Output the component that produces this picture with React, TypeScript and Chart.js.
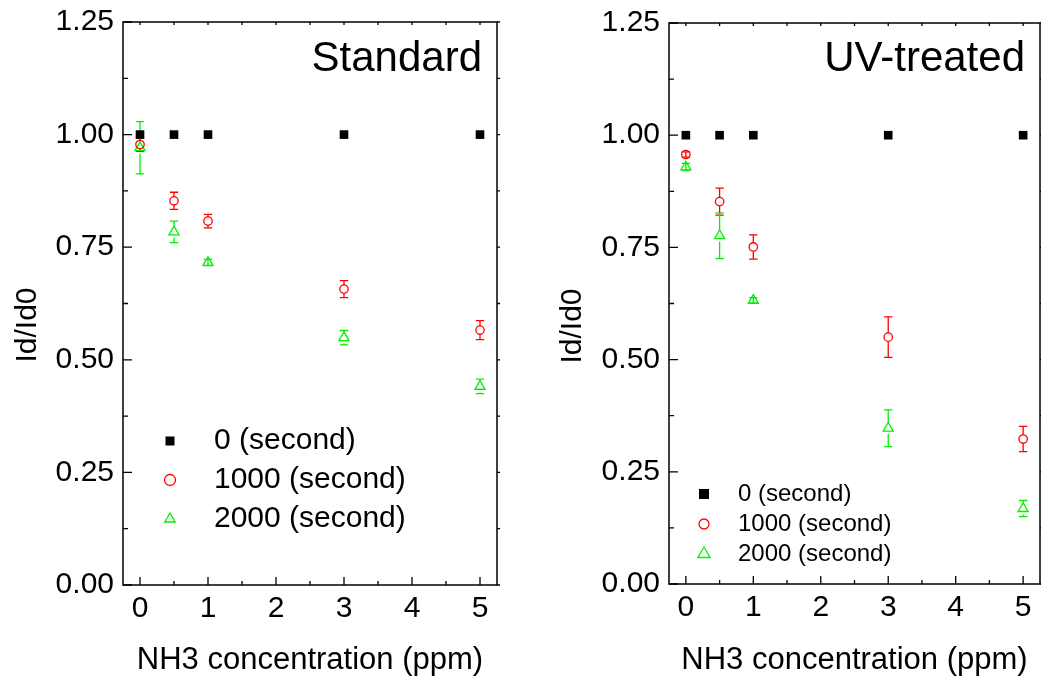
import React, { useEffect, useRef } from 'react';
import { Chart, registerables } from 'chart.js';

Chart.register(...registerables);

// ---------------- data ----------------
const concentrations = [0, 0.5, 1, 3, 5];
const seriesLabels = ['0 (second)', '1000 (second)', '2000 (second)'];
const xTickValues = [0, 1, 2, 3, 4, 5];
const xMinorTicks = [0.5, 1.5, 2.5, 3.5, 4.5];
const yTickValues = [0, 0.25, 0.5, 0.75, 1.0, 1.25];
const yMinorTicks = [0.125, 0.375, 0.625, 0.875, 1.125];
const panelTitles = ['Standard', 'UV-treated'];
const xAxisTitle = 'NH3 concentration (ppm)';
const yAxisTitle = 'Id/Id0';

const stdT0 = [1, 1, 1, 1, 1];
const stdT1000 = [0.978, 0.853, 0.808, 0.657, 0.566];
const stdT1000Err = [0.015, 0.019, 0.015, 0.019, 0.021];
const stdT2000 = [0.971, 0.784, 0.716, 0.549, 0.441];
const stdT2000Err = [0.058, 0.024, 0.007, 0.016, 0.016];

const uvT0 = [1, 1, 1, 1, 1];
const uvT1000 = [0.957, 0.852, 0.751, 0.55, 0.323];
const uvT1000Err = [0.006, 0.03, 0.027, 0.045, 0.028];
const uvT2000 = [0.929, 0.776, 0.632, 0.347, 0.168];
const uvT2000Err = [0.008, 0.051, 0.006, 0.041, 0.018];

// ---------------- styles / layout ----------------
const FONT = '"Liberation Sans", Arial, Helvetica, sans-serif';
const RED = '#ff0000';
const GREEN = '#00f000';
const BLACK = '#000000';

type Layout = {
  left: number;
  width: number;
  axisWidth: number;
  axisHeight: number;
  padTop: number;
  padRight: number;
  titleRight: number;
  titleBaseline: number;
  yTitleX: number;
  yTitleY: number;
  xTitleBaseline: number;
  legend: {
    symX: number;
    textX: number;
    rows: number[];
    font: number;
    rectSide: number;
    circleR: number;
    triR: number;
  };
};

const leftLayout: Layout = {
  left: 0,
  width: 520,
  axisWidth: 123,
  axisHeight: 96,
  padTop: 22,
  padRight: 23,
  titleRight: 482,
  titleBaseline: 71,
  yTitleX: 36,
  yTitleY: 325,
  xTitleBaseline: 669,
  legend: { symX: 170, textX: 214, rows: [441, 480, 519], font: 30, rectSide: 9, circleR: 5.5, triR: 6 },
};

const rightLayout: Layout = {
  left: 540,
  width: 501,
  axisWidth: 129,
  axisHeight: 97,
  padTop: 23,
  padRight: 1,
  titleRight: 485,
  titleBaseline: 71,
  yTitleX: 41,
  yTitleY: 326,
  xTitleBaseline: 669,
  legend: { symX: 164, textX: 198, rows: [494, 524, 554], font: 24, rectSide: 10, circleR: 5, triR: 7 },
};

type PanelSpec = {
  title: string;
  t0: number[];
  t1000: number[];
  t1000Err: number[];
  t2000: number[];
  t2000Err: number[];
  layout: Layout;
};

const panels: PanelSpec[] = [
  { title: panelTitles[0], t0: stdT0, t1000: stdT1000, t1000Err: stdT1000Err, t2000: stdT2000, t2000Err: stdT2000Err, layout: leftLayout },
  { title: panelTitles[1], t0: uvT0, t1000: uvT1000, t1000Err: uvT1000Err, t2000: uvT2000, t2000Err: uvT2000Err, layout: rightLayout },
];

function drawMarker(ctx: CanvasRenderingContext2D, kind: string, x: number, y: number, size: number, color: string) {
  ctx.save();
  ctx.strokeStyle = color;
  ctx.fillStyle = color;
  ctx.lineWidth = 1.3;
  if (kind === 'rect') {
    ctx.fillRect(x - size / 2, y - size / 2, size, size);
  } else if (kind === 'circle') {
    ctx.beginPath();
    ctx.arc(x, y, size, 0, Math.PI * 2);
    ctx.stroke();
  } else {
    ctx.beginPath();
    ctx.moveTo(x, y - size);
    ctx.lineTo(x + 0.866 * size, y + 0.5 * size);
    ctx.lineTo(x - 0.866 * size, y + 0.5 * size);
    ctx.closePath();
    ctx.stroke();
  }
  ctx.restore();
}

function makePlugin(spec: PanelSpec) {
  const L = spec.layout;
  const errMap: Record<number, number[]> = { 1: spec.t1000Err, 2: spec.t2000Err };
  return {
    id: 'decor',
    beforeDatasetsDraw(chart: any) {
      const ctx: CanvasRenderingContext2D = chart.ctx;
      const xs = chart.scales.x;
      const ys = chart.scales.y;
      chart.data.datasets.forEach((ds: any, di: number) => {
        const errs = errMap[di];
        if (!errs) return;
        ctx.save();
        ctx.strokeStyle = ds.borderColor;
        ctx.lineWidth = 1.3;
        ds.data.forEach((pt: any, i: number) => {
          const px = xs.getPixelForValue(pt.x);
          const py = ys.getPixelForValue(pt.y);
          const pTop = ys.getPixelForValue(pt.y + errs[i]);
          const pBot = ys.getPixelForValue(pt.y - errs[i]);
          const r = ds.pointRadius;
          const cap = 4.2;
          ctx.beginPath();
          if (py - pTop > r) {
            ctx.moveTo(px, pTop);
            ctx.lineTo(px, py - r);
            ctx.moveTo(px, py + r);
            ctx.lineTo(px, pBot);
          } else {
            ctx.moveTo(px, pTop);
            ctx.lineTo(px, pBot);
          }
          ctx.moveTo(px - cap, pTop);
          ctx.lineTo(px + cap, pTop);
          ctx.moveTo(px - cap, pBot);
          ctx.lineTo(px + cap, pBot);
          ctx.stroke();
        });
        ctx.restore();
      });
    },
    afterDraw(chart: any) {
      const ctx: CanvasRenderingContext2D = chart.ctx;
      const xs = chart.scales.x;
      const ys = chart.scales.y;
      const { left, right, top, bottom } = chart.chartArea;
      ctx.save();
      // frame
      ctx.strokeStyle = '#000';
      ctx.lineWidth = 1.5;
      ctx.strokeRect(left, top, right - left, bottom - top);
      // ticks
      ctx.lineWidth = 1.3;
      ctx.beginPath();
      yTickValues.forEach((v) => {
        const p = ys.getPixelForValue(v);
        ctx.moveTo(left, p);
        ctx.lineTo(left + 9, p);
        ctx.moveTo(right, p);
        ctx.lineTo(right + 3, p);
      });
      yMinorTicks.forEach((v) => {
        const p = ys.getPixelForValue(v);
        ctx.moveTo(left, p);
        ctx.lineTo(left + 5, p);
        ctx.moveTo(right, p);
        ctx.lineTo(right + 3, p);
      });
      xTickValues.forEach((v) => {
        const p = xs.getPixelForValue(v);
        ctx.moveTo(p, bottom);
        ctx.lineTo(p, bottom - 8);
        ctx.moveTo(p, top);
        ctx.lineTo(p, top + 3);
      });
      xMinorTicks.forEach((v) => {
        const p = xs.getPixelForValue(v);
        ctx.moveTo(p, bottom);
        ctx.lineTo(p, bottom - 4);
        ctx.moveTo(p, top);
        ctx.lineTo(p, top + 3);
      });
      ctx.stroke();

      ctx.fillStyle = '#000';
      // panel title
      ctx.font = `42px ${FONT}`;
      ctx.textAlign = 'right';
      ctx.textBaseline = 'alphabetic';
      ctx.fillText(spec.title, L.titleRight, L.titleBaseline);

      // x title
      ctx.font = `31px ${FONT}`;
      ctx.textAlign = 'center';
      ctx.fillText(xAxisTitle, (left + right) / 2, L.xTitleBaseline);

      // y title
      ctx.save();
      ctx.translate(L.yTitleX, L.yTitleY);
      ctx.rotate(-Math.PI / 2);
      ctx.font = `30px ${FONT}`;
      ctx.textAlign = 'center';
      ctx.textBaseline = 'alphabetic';
      ctx.fillText(yAxisTitle, 0, 0);
      ctx.restore();

      // legend
      const lg = L.legend;
      const kinds = ['rect', 'circle', 'triangle'];
      const colors = [BLACK, RED, GREEN];
      const sizes = [lg.rectSide, lg.circleR, lg.triR];
      seriesLabels.forEach((lab, i) => {
        const y = lg.rows[i];
        drawMarker(ctx, kinds[i], lg.symX, y, sizes[i], colors[i]);
        ctx.fillStyle = '#000';
        ctx.font = `${lg.font}px ${FONT}`;
        ctx.textAlign = 'left';
        ctx.textBaseline = 'middle';
        ctx.fillText(lab, lg.textX, y);
      });
      ctx.restore();
    },
  };
}

function makeConfig(spec: PanelSpec): any {
  const L = spec.layout;
  const pts = (ys: number[]) => concentrations.map((x, i) => ({ x, y: ys[i] }));
  return {
    type: 'scatter',
    data: {
      datasets: [
        {
          label: seriesLabels[0],
          data: pts(spec.t0),
          pointStyle: 'rect',
          pointRadius: 6.1,
          backgroundColor: BLACK,
          borderColor: BLACK,
          borderWidth: 0,
        },
        {
          label: seriesLabels[1],
          data: pts(spec.t1000),
          pointStyle: 'circle',
          pointRadius: 4.2,
          backgroundColor: 'rgba(255,255,255,0)',
          borderColor: RED,
          borderWidth: 1.3,
        },
        {
          label: seriesLabels[2],
          data: pts(spec.t2000),
          pointStyle: 'triangle',
          pointRadius: 5.8,
          backgroundColor: 'rgba(255,255,255,0)',
          borderColor: GREEN,
          borderWidth: 1.3,
        },
      ],
    },
    options: {
      responsive: false,
      animation: false,
      events: [],
      layout: { autoPadding: false, padding: { top: L.padTop, right: L.padRight, left: 0, bottom: 0 } },
      plugins: {
        legend: { display: false },
        tooltip: { enabled: false },
        title: { display: false },
      },
      scales: {
        x: {
          type: 'linear',
          position: 'bottom',
          min: -0.25,
          max: 5.25,
          grid: { display: false, drawTicks: false },
          border: { display: false },
          afterBuildTicks: (s: any) => {
            s.ticks = xTickValues.map((v) => ({ value: v }));
          },
          ticks: {
            autoSkip: false,
            maxRotation: 0,
            padding: 6,
            color: '#000',
            font: { family: FONT, size: 30 },
            callback: (v: any) => String(v),
          },
          afterFit: (s: any) => {
            s.height = L.axisHeight;
            s.paddingLeft = 0;
            s.paddingRight = 0;
            s.paddingTop = 0;
            s.paddingBottom = 0;
          },
        },
        y: {
          type: 'linear',
          min: 0,
          max: 1.25,
          grid: { display: false, drawTicks: false },
          border: { display: false },
          afterBuildTicks: (s: any) => {
            s.ticks = yTickValues.map((v) => ({ value: v }));
          },
          ticks: {
            autoSkip: false,
            padding: 9,
            color: '#000',
            font: { family: FONT, size: 30 },
            callback: (v: any) => Number(v).toFixed(2),
          },
          afterFit: (s: any) => {
            s.width = L.axisWidth;
            s.paddingLeft = 0;
            s.paddingRight = 0;
            s.paddingTop = 0;
            s.paddingBottom = 0;
          },
        },
      },
    },
    plugins: [makePlugin(spec)],
  };
}

function Panel({ spec }: { spec: PanelSpec }) {
  const ref = useRef<HTMLCanvasElement>(null);
  useEffect(() => {
    if (!ref.current) return;
    const chart = new Chart(ref.current, makeConfig(spec));
    return () => chart.destroy();
  }, [spec]);
  return (
    <canvas
      ref={ref}
      width={spec.layout.width}
      height={681}
      style={{ position: 'absolute', left: spec.layout.left, top: 0, width: spec.layout.width, height: 681, display: 'block' }}
    />
  );
}

export default function App() {
  return (
    <div style={{ position: 'absolute', left: 0, top: 0, width: 1041, height: 681, background: '#fff', overflow: 'hidden' }}>
      {panels.map((p) => (
        <Panel key={p.title} spec={p} />
      ))}
    </div>
  );
}
